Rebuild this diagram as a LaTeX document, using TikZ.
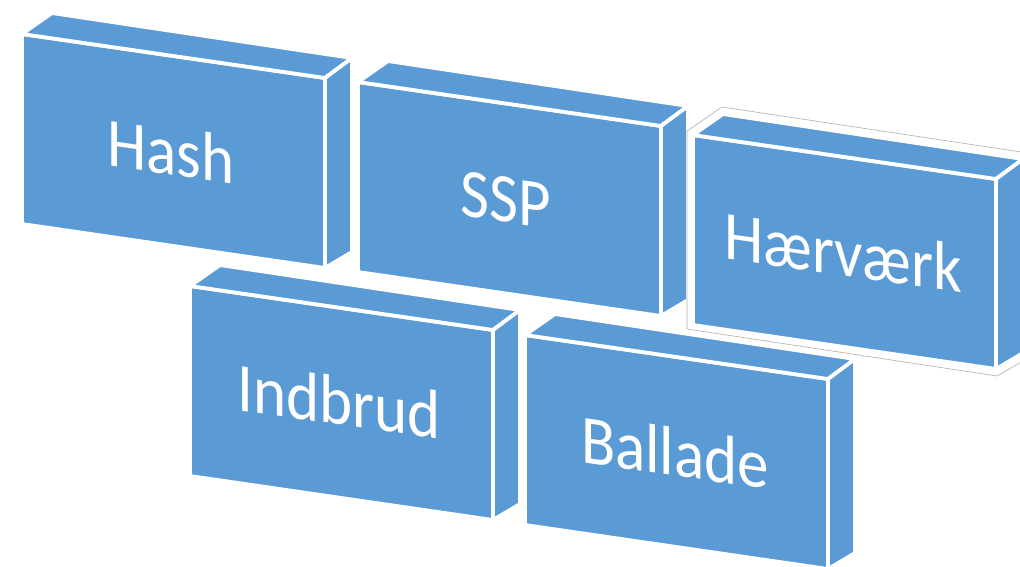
\documentclass[tikz,border=0pt]{standalone}
\usepackage{fontspec}
\setsansfont{Carlito}

\definecolor{brickBlue}{RGB}{91,155,213}
\definecolor{outlineGrey}{RGB}{185,170,155}

\tikzstyle{brickFace}=[fill=brickBlue,draw=white,line width=3.8pt,line join=miter]
\tikzstyle{brickText}=[text=white,font=\sffamily\fontsize{63}{70}\selectfont,yslant=-0.145,yscale=1.1,inner sep=0pt]

\begin{document}
\begin{tikzpicture}[x=1pt,y=-1pt]

  \useasboundingbox (0,0) rectangle (1020,566);

  \path[brickFace] (22,34) -- ++(303,44) -- ++(0,190) -- ++(-303,-44) -- cycle;
  \path[brickFace] (22,34) -- ++(30,-21) -- ++(300,45) -- ++(-27,20) -- cycle;
  \path[brickFace] (325,78) -- ++(27,-20) -- ++(0,194) -- ++(-27,16) -- cycle;
  \node[brickText] (hash) at (171,151) {Hash};

  \path[brickFace] (358,82) -- ++(303,44) -- ++(0,190) -- ++(-303,-44) -- cycle;
  \path[brickFace] (358,82) -- ++(30,-21) -- ++(300,45) -- ++(-27,20) -- cycle;
  \path[brickFace] (661,126) -- ++(27,-20) -- ++(0,194) -- ++(-27,16) -- cycle;
  \node[brickText] (ssp) at (506,200) {SSP};

  \path[brickFace] (190,286) -- ++(303,44) -- ++(0,190) -- ++(-303,-44) -- cycle;
  \path[brickFace] (190,286) -- ++(30,-21) -- ++(300,45) -- ++(-27,20) -- cycle;
  \path[brickFace] (493,330) -- ++(27,-20) -- ++(0,194) -- ++(-27,16) -- cycle;
  \node[brickText] (indbrud) at (339,401) {Indbrud};

  \path[brickFace] (525,335) -- ++(303,44) -- ++(0,190) -- ++(-303,-44) -- cycle;
  \path[brickFace] (525,335) -- ++(30,-21) -- ++(300,45) -- ++(-27,20) -- cycle;
  \path[brickFace] (828,379) -- ++(27,-20) -- ++(0,194) -- ++(-27,16) -- cycle;
  \node[brickText] (ballade) at (675,452) {Ballade};

  \path[brickFace] (693,135) -- ++(303,44) -- ++(0,190) -- ++(-303,-44) -- cycle;
  \path[brickFace] (693,135) -- ++(30,-21) -- ++(300,45) -- ++(-27,20) -- cycle;
  \path[brickFace] (996,179) -- ++(27,-20) -- ++(0,194) -- ++(-27,16) -- cycle;
  \node[brickText] (haervaerk) at (843,252) {Hærværk};
  \path[draw=outlineGrey,line width=0.6pt] (687,131) -- (722,107) -- (1028,153) -- (1028,358) -- (997,376) -- (687,329) -- cycle;

\end{tikzpicture}
\end{document}
